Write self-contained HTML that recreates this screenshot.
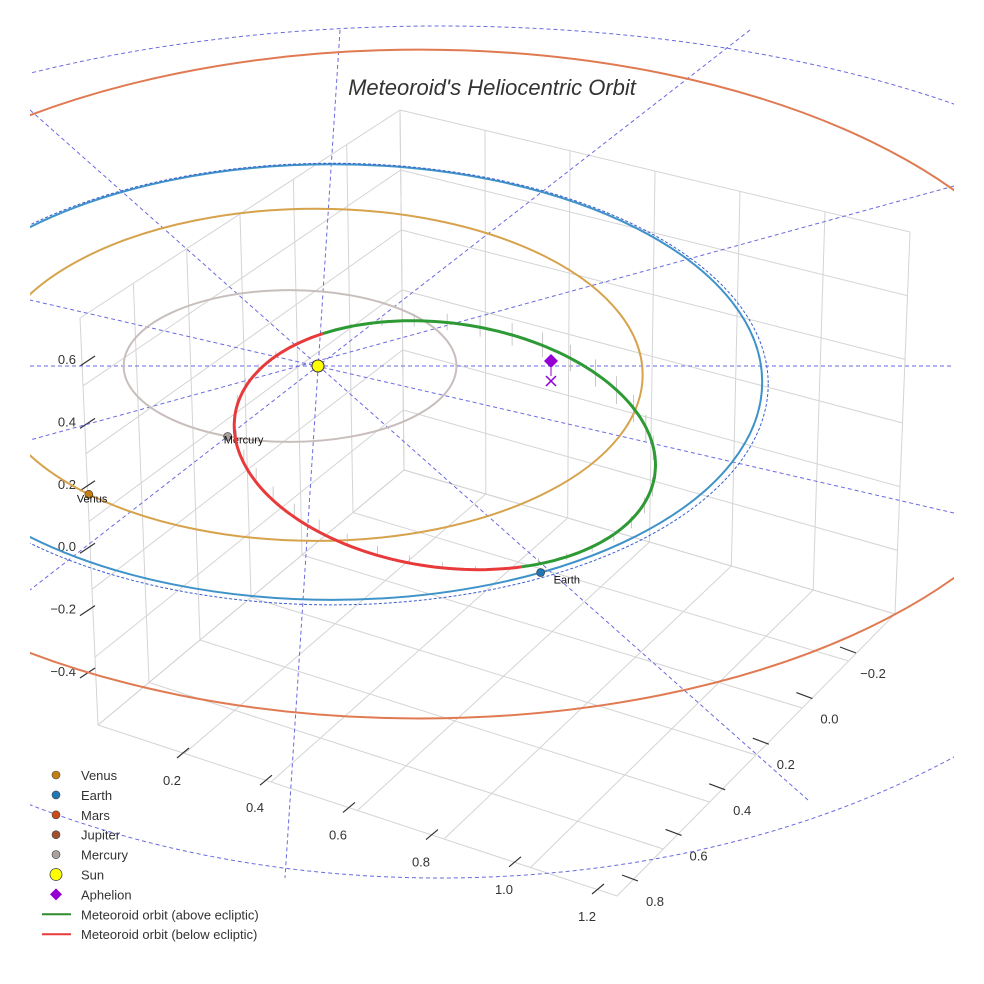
<!DOCTYPE html>
<html><head><meta charset="utf-8"><style>
html,body{margin:0;padding:0;background:#fff}
svg{display:block;font-family:"Liberation Sans",sans-serif}
</style></head><body>
<svg id="chart" width="984" height="984" viewBox="0 0 984 984">
<defs><clipPath id="clip"><rect x="30" y="0" width="924" height="984"/></clipPath></defs>
<g id="grid"></g>
<g id="ticks"></g>
<g id="plot" clip-path="url(#clip)"></g>
<text x="492" y="95" text-anchor="middle" font-size="22" font-style="italic" fill="#333">Meteoroid's Heliocentric Orbit</text>
<g id="legend"></g>
</svg>
<script>
// ---- data ----
const planetNames = ["Mercury","Venus","Earth","Mars"];
const planetA = [0.387, 0.76, 1.0, 1.524];           // projected semi-major extent (AU)
const planetB = [0.345, 0.755, 0.99, 1.52];          // projected minor extent (AU)
const planetShift = [-0.065, -0.005, 0.033, 0.237];  // orbit centre offset x (AU)
const planetYShift = [0.0, 0.04, 0.073, 0.082];      // orbit centre offset y (AU)
const planetColors = ["#c8bfbc","#d6a24c","#3f93c9","#e07a52"];
const planetPosAngle = [112, 134, 61, null];          // degrees for visible planet markers
const meteorCenter = [0.295, 0.36];                   // AU
const meteorAxes = [0.493, 0.555];                    // AU
const meteorTilt = 8;                                 // degrees
const aboveStart = -130, aboveEnd = 64;               // orbit angle range above ecliptic
const zTicks = [-0.4,-0.2,0.0,0.2,0.4,0.6];
const xTicks = [0.2,0.4,0.6,0.8,1.0,1.2];
const yTicks = [-0.2,0.0,0.2,0.4,0.6,0.8];

const NS="http://www.w3.org/2000/svg";
function mk(tag, attrs, parent){const e=document.createElementNS(NS,tag);for(const k in attrs)e.setAttribute(k,attrs[k]);parent.appendChild(e);return e;}
const SUN=[318,366], KX=430, KY=220;
function px(X){return SUN[0]+KX*X;}
function py(Y){return SUN[1]+KY*Y;}

// ---- 3D box grid ----
const grid=document.getElementById('grid');
const A=[98,725],B=[617,896],C=[895,614],D=[404,470];
const At=[80,318],Dt=[400,110],Ct=[910,232];
function lerp(p,q,t){return [p[0]+(q[0]-p[0])*t,p[1]+(q[1]-p[1])*t];}
function line(p,q,g,c,w){return mk('line',{x1:p[0],y1:p[1],x2:q[0],y2:q[1],stroke:c||'#d4d4d4','stroke-width':w||1},g);}
for(let i=0;i<=6;i++){const t=i/6;
  let l=line(lerp(A,D,t),lerp(B,C,t),grid);
  l=line(lerp(A,B,t),lerp(D,C,t),grid);
  l=line(lerp(A,D,t),lerp(At,Dt,t),grid);
  l=line(lerp(D,C,t),lerp(Dt,Ct,t),grid);
  l=line(lerp(A,At,t),lerp(D,Dt,t),grid);
  l=line(lerp(D,Dt,t),lerp(C,Ct,t),grid);
}
// ---- ticks ----
const tk=document.getElementById('ticks');
zTicks.forEach((v,i)=>{const y=670-(v+0.4)/1.0*312;
  line([80,y+8],[95,y-2],tk,'#333',1.2);
  const t=mk('text',{x:76,y:y+6,'text-anchor':'end','font-size':13,fill:'#333'},tk);t.textContent=v.toFixed(1).replace('-','\u2212');
  });
xTicks.forEach((v,i)=>{const p=lerp([183,752],[598,888],(v-0.2)/1.0);
  line([p[0]-6,p[1]+6],[p[0]+6,p[1]-4],tk,'#333',1.2);
  const t=mk('text',{x:p[0]-11,y:p[1]+33,'text-anchor':'middle','font-size':13,fill:'#333'},tk);t.textContent=v.toFixed(1);
  });
yTicks.forEach((v,i)=>{const p=lerp([848,650],[630,878],(v+0.2)/1.0);
  line([p[0]-8,p[1]-3],[p[0]+8,p[1]+3],tk,'#333',1.2);
  const t=mk('text',{x:p[0]+25,y:p[1]+28,'text-anchor':'middle','font-size':13,fill:'#333'},tk);t.textContent=v.toFixed(1).replace('-','\u2212');
  });

// ---- plot ----
const plot=document.getElementById('plot');
let e=mk('path',{d:'M 1240 360 A 800 518 0 0 1 -360 360 A 800 334 0 0 1 1240 360',fill:'none',stroke:'#6a6ae0','stroke-width':1,'stroke-dasharray':'4,3'},plot);

const rays=[[340,30,285,878],[30,366,954,366],[30,110,808,800],[750,30,30,590],[954,186,30,440],[954,513,30,300]];
rays.forEach(r=>{const l=line([r[0],r[1]],[r[2],r[3]],plot,'#6a6ae0',1);l.setAttribute('stroke-dasharray','4,3');
  });
const labelDx=[-4,-12,13,0], labelDy=[7,8,11,0];
planetNames.forEach((n,i)=>{
  const cx=px(planetShift[i]), cy=py(planetYShift[i]);
  const rx=KX*planetA[i], ry=KY*planetB[i];
  const o=mk('ellipse',{cx:cx,cy:cy,rx:rx,ry:ry,fill:'none',stroke:planetColors[i],'stroke-width':2},plot);
  
  if(n==='Earth'){const d=mk('ellipse',{cx:cx,cy:cy+2,rx:rx+6,ry:ry+3,fill:'none',stroke:'#3b5fcf','stroke-width':1,'stroke-dasharray':'3,2'},plot);
    }
  if(planetPosAngle[i]!==null){const a=planetPosAngle[i]*Math.PI/180;
    const x=cx+rx*Math.cos(a), y=cy+ry*Math.sin(a);
    const fill=n==='Mercury'?'#a89f9c':(n==='Venus'?'#c47f14':'#1f77b4');
    const m=mk('circle',{cx:x,cy:y,r:4,fill:fill,stroke:'#333','stroke-width':0.6},plot);
    
    const t=mk('text',{x:x+labelDx[i],y:y+labelDy[i],'font-size':11,fill:'#111'},plot);t.textContent=n;
    }
});
const ct=Math.cos(meteorTilt*Math.PI/180), st=Math.sin(meteorTilt*Math.PI/180);
function mpt(deg){const t=deg*Math.PI/180;const u=KX*meteorAxes[0]*Math.cos(t), v=KY*meteorAxes[1]*Math.sin(t);
  return [px(meteorCenter[0])+u*ct-v*st, py(meteorCenter[1])+u*st+v*ct];}
function arc(a0,a1){let d='';for(let a=a0;a<=a1+0.01;a+=2){const p=mpt(a);d+=(d?'L':'M')+p[0].toFixed(1)+' '+p[1].toFixed(1);}return d;}
for(let a=aboveStart;a<aboveEnd+360;a+=9){const p=mpt(a);const above=a<=aboveEnd;
  const h=above?14*Math.abs(Math.sin((a-aboveStart)/(aboveEnd-aboveStart)*Math.PI)):14*Math.abs(Math.sin((a-aboveEnd)/(360-(aboveEnd-aboveStart))*Math.PI));
  const l=line(p,[p[0],p[1]+(above?h:-h)],plot,'#bbb',0.8);}
e=mk('path',{d:arc(aboveEnd,aboveStart+360),fill:'none',stroke:'#e83a3a','stroke-width':3},plot);

e=mk('path',{d:arc(aboveStart,aboveEnd),fill:'none',stroke:'#2e9a35','stroke-width':3},plot);

e=mk('circle',{cx:SUN[0],cy:SUN[1],r:6,fill:'#ffff00',stroke:'#333','stroke-width':1},plot);

e=mk('path',{d:'M551 354 L558 361 L551 368 L544 361 Z',fill:'#9400d3'},plot);

line([551,368],[551,376],plot,'#9400d3',1);
e=mk('path',{d:'M546 376 L556 386 M556 376 L546 386',stroke:'#9400d3','stroke-width':1.5},plot);


// ---- legend ----
const lg=document.getElementById('legend');
const legendLabels=["Venus","Earth","Mars","Jupiter","Mercury","Sun","Aphelion","Meteoroid orbit (above ecliptic)","Meteoroid orbit (below ecliptic)"];
const legendColors=["#c47f14","#1f77b4","#cc4a1a","#a0522d","#aaa29e","#ffff00","#9400d3","#2e8b2e","#e83a3a"];
legendLabels.forEach((n,i)=>{const y=775+i*19.9;
  const g=mk('g',{},lg);
  if(i<5)mk('circle',{cx:56,cy:y,r:4,fill:legendColors[i],stroke:'#444','stroke-width':0.6},g);
  else if(i===5)mk('circle',{cx:56,cy:y,r:6,fill:legendColors[i],stroke:'#444','stroke-width':0.8},g);
  else if(i===6)mk('path',{d:`M56 ${y-6} L62 ${y} L56 ${y+6} L50 ${y} Z`,fill:legendColors[i]},g);
  else mk('line',{x1:42,y1:y,x2:71,y2:y,stroke:legendColors[i],'stroke-width':2},g);
  const t=mk('text',{x:81,y:y+5,'font-size':13,fill:'#333'},g);t.textContent=n;});
</script>
</body></html>
